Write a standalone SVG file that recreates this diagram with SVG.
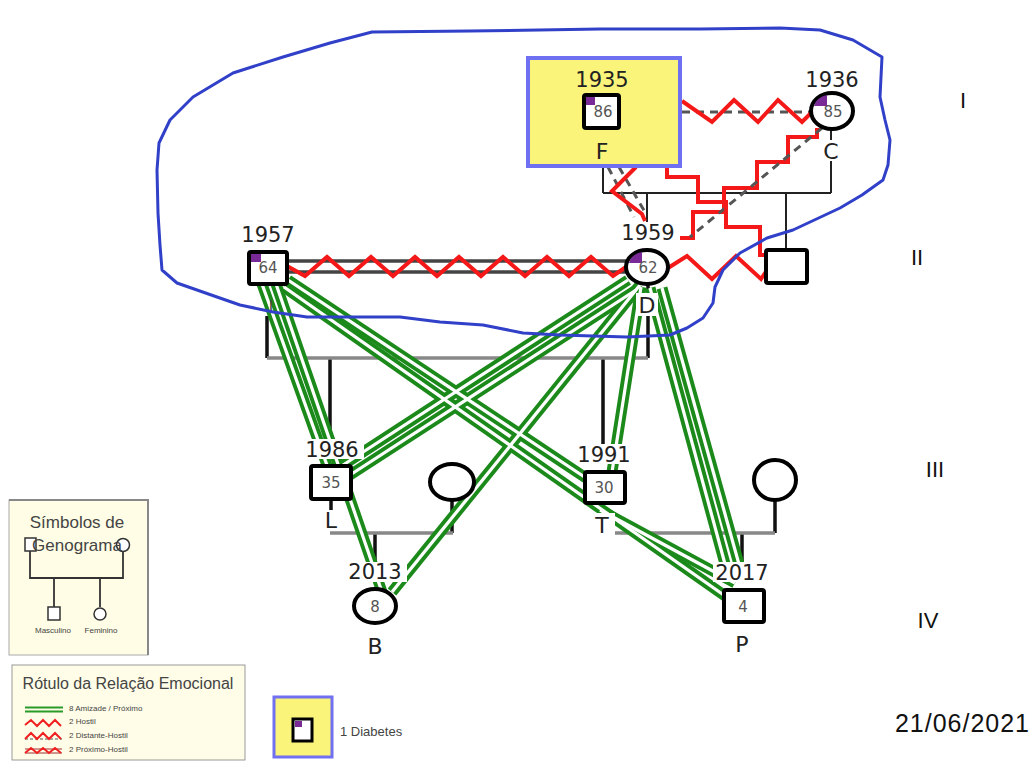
<svg xmlns="http://www.w3.org/2000/svg" width="1033" height="765" viewBox="0 0 1033 765">
<style>
.fam{stroke:#111;stroke-width:3.5;fill:none}
.thin{stroke:#222;stroke-width:2;fill:none}
.union{stroke:#888;stroke-width:3.5;fill:none}
.gOut{stroke:#1b8a1b;stroke-width:11;fill:none}
.gIn{stroke:#fff;stroke-width:3.2;fill:none}
.red{stroke:#f41818;stroke-width:4;fill:none;stroke-linejoin:miter}
.dash{stroke:#555;stroke-width:3;stroke-dasharray:8 6;fill:none}
.dbl{stroke:#444;stroke-width:3.5;fill:none}
.node{fill:#fff;stroke:#000;stroke-width:4}
.pur{fill:#7a2a96}
.yr{font-family:"DejaVu Sans",sans-serif;font-size:21px;fill:#222;text-anchor:middle}
.let{font-family:"DejaVu Sans",sans-serif;font-size:22px;fill:#222;text-anchor:middle}
.num{font-family:"DejaVu Sans",sans-serif;font-size:15px;fill:#555;text-anchor:middle}
.bg{fill:#fff}
.gen{font-family:"Liberation Sans",sans-serif;font-size:22px;fill:#111;text-anchor:middle}
.lg{font-family:"Liberation Sans",sans-serif;fill:#444}
.blue{stroke:#3040c8;stroke-width:3;fill:none;stroke-linejoin:round}
</style>
<defs>
<path id="g1" d="M262,284 L328,468"/>
<path id="g2" d="M276,284 L382,592"/>
<path id="g3" d="M288,280 L592,482"/>
<path id="g4" d="M284,287 L728,598"/>
<path id="g5" d="M600,510 L735,583"/>
<path id="g6" d="M628,280 L340,467"/>
<path id="g7" d="M636,290 L350,475"/>
<path id="g8" d="M640,285 L392,592"/>
<path id="g9" d="M641,287 L612,472"/>
<path id="g10" d="M650,288 L728,575"/>
<path id="g11" d="M662,288 L742,575"/>
</defs>
<rect width="1033" height="765" fill="#fff"/>

<g id="connectors">
  <path class="thin" d="M603,166 V193 M603,193 H831 M831,129 V193 M647,193 V222 M786,193 V250"/>
  <path class="fam" d="M267,316 V358 M648,284 V358 M330,358 V440 M603,358 V445"/>
  <path class="union" d="M267,358 H648"/>
  <path class="fam" d="M331,499 V512 M452,500 V533 M375,533 V562 M603,503 V515 M775,500 V533 M742,533 V562"/>
  <path class="union" d="M330,533 H453 M603,533 H775"/>
  <path class="dbl" d="M287,261 H628 M287,272 H628"/>
  <path class="red" d="M287,266 L305,276 L327,257 L349,276 L371,257 L393,276 L415,257 L437,276 L459,257 L481,276 L503,257 L525,276 L547,257 L569,276 L591,257 L613,276 L626,267"/>
  <path class="dash" d="M682,112 H812"/>
  <path class="red" d="M682,101 L712,122 L734,100 L758,122 L778,100 L802,122 L812,112"/>
  <path class="red" d="M817,128 V137 H788 V162 H757 V188 H724 V212 H693 V238 H680"/>
  <path class="dash" d="M822,128 L690,237"/>
  <path class="dash" d="M608,167 L634,217 M619,167 L646,214"/>
  <path class="red" d="M636,167 L612,191 L642,214 L645,221"/>
  <path class="red" d="M667,166 V177 H698 V202 H726 V227 H760 V255 H768"/>
  <path class="red" d="M668,268 L687,256 L712,279 L736,256 L761,279 L767,270"/>
  <g class="gOut">
    <use href="#g1"/><use href="#g2"/><use href="#g3"/><use href="#g4"/><use href="#g5"/><use href="#g6"/><use href="#g7"/><use href="#g8"/><use href="#g9"/><use href="#g10"/><use href="#g11"/>
  </g>
  <g class="gIn">
    <use href="#g1"/><use href="#g2"/><use href="#g3"/><use href="#g4"/><use href="#g5"/><use href="#g6"/><use href="#g7"/><use href="#g8"/><use href="#g9"/><use href="#g10"/><use href="#g11"/>
  </g>
</g>

<g id="node-F">
  <rect x="528" y="58" width="152" height="108" fill="#faf47a" stroke="#6f6ff2" stroke-width="4"/>
  <text class="yr" x="602" y="87">1935</text>
  <rect class="node" x="584" y="95" width="35" height="33" rx="2"/>
  <rect class="pur" x="586" y="97" width="9" height="8"/>
  <text class="num" x="603" y="117">86</text>
  <text class="let" x="602" y="159">F</text>
</g>

<g id="node-C">
  <rect class="bg" x="805" y="66" width="56" height="20"/>
  <text class="yr" x="832" y="87">1936</text>
  <ellipse class="node" cx="832" cy="111" rx="21" ry="18"/>
  <path class="pur" d="M827,106 L814,106 A18,15 0 0 1 827,95 Z"/>
  <text class="num" x="833" y="117">85</text>
  <rect class="bg" x="821" y="140" width="22" height="21"/>
  <text class="let" x="831" y="159">C</text>
</g>

<g id="node-1957">
  <text class="yr" x="268" y="242">1957</text>
  <rect class="node" x="249" y="252" width="38" height="32" rx="2"/>
  <rect class="pur" x="251" y="254" width="10" height="8"/>
  <text class="num" x="268" y="273">64</text>
  <text x="271" y="312" font-family="DejaVu Sans, sans-serif" font-size="15" fill="#444" text-anchor="middle">I</text>
</g>

<g id="node-D">
  <rect class="bg" x="619" y="222" width="60" height="20"/>
  <text class="yr" x="648" y="240">1959</text>
  <ellipse class="node" cx="647" cy="267" rx="21" ry="17"/>
  <path class="pur" d="M642,263 L629,263 A18,14 0 0 1 642,252 Z"/>
  <text class="num" x="648" y="273">62</text>
  <rect class="bg" x="636" y="293" width="22" height="23"/>
  <text class="let" x="647" y="313">D</text>
</g>

<g id="node-son">
  <rect class="node" x="766" y="250" width="41" height="33" rx="2"/>
</g>

<g id="node-L">
  <rect class="bg" x="303" y="439" width="61" height="20"/>
  <text class="yr" x="332" y="457">1986</text>
  <rect class="node" x="311" y="466" width="40" height="33" rx="2"/>
  <text class="num" x="331" y="488">35</text>
  <rect class="bg" x="322" y="510" width="18" height="21"/>
  <text class="let" x="331" y="528">L</text>
</g>

<g id="node-L-partner">
  <ellipse class="node" cx="452" cy="482" rx="22" ry="18"/>
</g>

<g id="node-T">
  <rect class="bg" x="575" y="444" width="58" height="20"/>
  <text class="yr" x="604" y="462">1991</text>
  <rect class="node" x="585" y="472" width="40" height="31" rx="2"/>
  <text class="num" x="604" y="493">30</text>
  <rect class="bg" x="591" y="513" width="24" height="22"/>
  <text class="let" x="602" y="533">T</text>
</g>

<g id="node-T-partner">
  <ellipse class="node" cx="775" cy="480" rx="21" ry="20"/>
</g>

<g id="node-B">
  <rect class="bg" x="345" y="562" width="62" height="20"/>
  <text class="yr" x="375" y="579">2013</text>
  <ellipse class="node" cx="375" cy="606" rx="21" ry="17"/>
  <text class="num" x="375" y="612">8</text>
  <text class="let" x="375" y="654">B</text>
</g>

<g id="node-P">
  <rect class="bg" x="713" y="562" width="60" height="20"/>
  <text class="yr" x="742" y="580">2017</text>
  <rect class="node" x="724" y="590" width="40" height="32" rx="2"/>
  <text class="num" x="743" y="612">4</text>
  <text class="let" x="742" y="652">P</text>
</g>

<g id="household-outline">
  <path class="blue" d="M162,270 L160,245 L158,213 L157,170 L159,143 L170,120 L193,97 L233,73 L283,57 L330,43 L372,32 L470,31 L600,29 L700,29 L780,28 L820,30 L853,40 L882,57 L880,97 L885,120 L890,140 L888,165 L883,180 L862,195 L840,208 L793,230 L767,238 L740,253 L723,270 L715,287 L713,303 L703,318 L687,328 L670,335 L627,337 L560,335 L523,333 L483,325 L440,322 L400,317 L307,317 L273,312 L240,305 L217,297 L177,283 Z"/>
</g>

<g id="generations">
  <text class="gen" x="963" y="108">I</text>
  <text class="gen" x="917" y="265">II</text>
  <text class="gen" x="935" y="477">III</text>
  <text class="gen" x="928" y="628">IV</text>
  <text x="1030" y="732" font-family="Liberation Sans, sans-serif" font-size="25" letter-spacing="1" fill="#111" text-anchor="end">21/06/2021</text>
</g>

<g id="legend-symbols">
  <rect x="9" y="500" width="139" height="155" fill="#fffde5" stroke="#aaa" stroke-width="1"/>
  <path d="M9,500 H148 V655" stroke="#888" stroke-width="2" fill="none"/>
  <path d="M30,551 V578 H123 V552 M54,578 V607 M100,578 V607" stroke="#333" stroke-width="1.8" fill="none"/>
  <rect x="25" y="538" width="11" height="13" fill="#fff" stroke="#333" stroke-width="1.5"/>
  <circle cx="123" cy="545" r="6.5" fill="#fff" stroke="#333" stroke-width="1.5"/>
  <rect x="48" y="607" width="12" height="13" fill="#fff" stroke="#333" stroke-width="1.5"/>
  <circle cx="100" cy="614" r="6" fill="#fff" stroke="#333" stroke-width="1.5"/>
  <text class="lg" x="77" y="528" font-size="17" text-anchor="middle" fill="#333">Símbolos de</text>
  <text class="lg" x="77" y="551" font-size="17" text-anchor="middle" fill="#333">Genograma</text>
  <text class="lg" x="53" y="633" font-size="8" text-anchor="middle">Masculino</text>
  <text class="lg" x="101" y="633" font-size="8" text-anchor="middle">Feminino</text>
</g>

<g id="legend-relations">
  <rect x="12" y="665" width="233" height="95" fill="#fffde8" stroke="#999" stroke-width="1"/>
  <text class="lg" x="128" y="689" font-size="16" text-anchor="middle" fill="#333">Rótulo da Relação Emocional</text>
  <path d="M25,707.5 H63 M25,711.5 H63" stroke="#2a9a2a" stroke-width="2" fill="none"/>
  <path d="M25,725 L31,720 L37,726 L43,720 L49,726 L55,720 L61,726" stroke="#f02020" stroke-width="2" fill="none"/>
  <path d="M25,739 H62" stroke="#555" stroke-width="1.2" stroke-dasharray="3 2" fill="none"/>
  <path d="M25,739 L31,733 L37,739 L43,733 L49,739 L55,733 L61,739" stroke="#f02020" stroke-width="2" fill="none"/>
  <path d="M25,749 H62 M25,753 H62" stroke="#a03030" stroke-width="1.2" fill="none"/>
  <path d="M25,753 L31,748 L37,753 L43,748 L49,753 L55,748 L61,753" stroke="#f02020" stroke-width="2" fill="none"/>
  <text class="lg" x="69" y="711" font-size="8">8 Amizade / Próximo</text>
  <text class="lg" x="69" y="724" font-size="8">2 Hostil</text>
  <text class="lg" x="69" y="738" font-size="8">2 Distante-Hostil</text>
  <text class="lg" x="69" y="752" font-size="8">2 Próximo-Hostil</text>
</g>

<g id="legend-diabetes">
  <rect x="274" y="697" width="58" height="60" fill="#faf47a" stroke="#7070f0" stroke-width="3"/>
  <rect x="293" y="719" width="19" height="22" fill="#fff" stroke="#000" stroke-width="3"/>
  <rect class="pur" x="295" y="721" width="7" height="6"/>
  <text class="lg" x="340" y="736" font-size="13">1 Diabetes</text>
</g>
</svg>
